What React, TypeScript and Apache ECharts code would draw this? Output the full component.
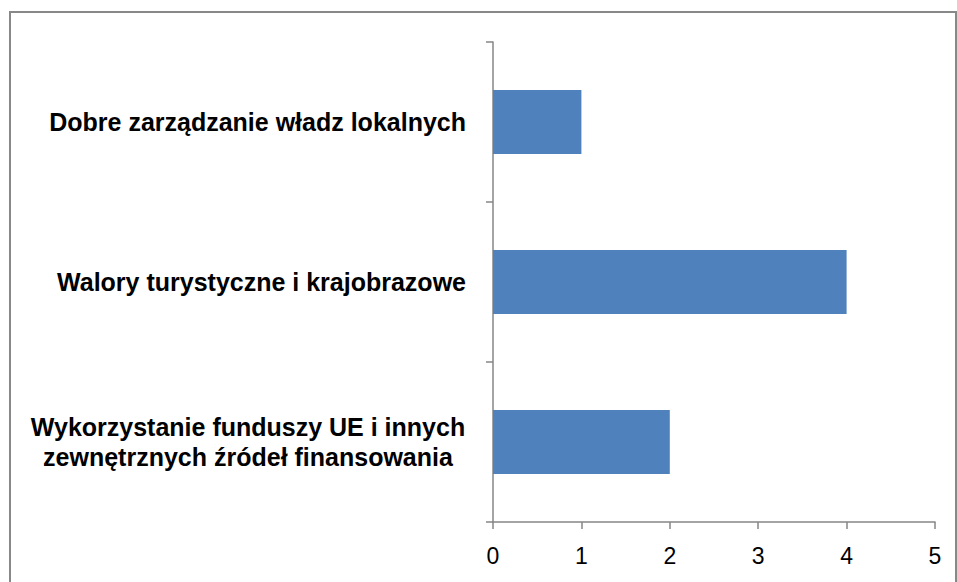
import React, { useEffect, useRef } from "react";
import * as echarts from "echarts";

const categories: string[] = [
  "Wykorzystanie funduszy UE i innych\nzewnętrznych źródeł finansowania",
  "Walory turystyczne i krajobrazowe",
  "Dobre zarządzanie władz lokalnych",
];
const values: number[] = [2, 4, 1];
const xTicks: number[] = [0, 1, 2, 3, 4, 5];

export default function App() {
  const ref = useRef<HTMLDivElement>(null);
  useEffect(() => {
    if (!ref.current) return;
    const chart = echarts.init(ref.current, undefined, { renderer: "svg" });
    const axisColor = "#868686";
    const font = "Liberation Sans, Arial, sans-serif";
    chart.setOption({
      animation: false,
      backgroundColor: "#ffffff",
      graphic: [
        {
          type: "rect",
          shape: { x: 10, y: 12, width: 946, height: 580 },
          style: { fill: "none", stroke: "#888888", lineWidth: 2 },
          silent: true,
        },
      ],
      grid: { left: 493, right: 22, top: 42, bottom: 60, containLabel: false },
      xAxis: {
        type: "value",
        min: xTicks[0],
        max: xTicks[xTicks.length - 1],
        interval: 1,
        axisLine: { show: true, lineStyle: { color: axisColor, width: 1.5 } },
        axisTick: { show: true, length: 7, lineStyle: { color: axisColor, width: 1.5 } },
        splitLine: { show: false },
        axisLabel: {
          color: "#000000",
          fontSize: 23,
          fontFamily: font,
          margin: 22,
        },
      },
      yAxis: {
        type: "category",
        data: categories,
        axisLine: { show: true, onZero: false, lineStyle: { color: axisColor, width: 1.5 } },
        axisTick: { show: true, length: 7, lineStyle: { color: axisColor, width: 1.5 } },
        axisLabel: {
          color: "#000000",
          fontSize: 25,
          fontWeight: "bold",
          fontFamily: font,
          margin: 27,
          lineHeight: 30,
          formatter: (v: string) => {
            if (v.indexOf("\n") >= 0) {
              return v
                .split("\n")
                .map((l) => "{c|" + l + "}")
                .join("\n");
            }
            return v;
          },
          rich: {
            c: {
              width: 436,
              align: "center",
              fontSize: 25,
              fontWeight: "bold",
              fontFamily: font,
              lineHeight: 30,
              color: "#000000",
            },
          },
        },
      },
      series: [
        {
          type: "bar",
          data: values,
          barWidth: "40%",
          itemStyle: { color: "#4F81BD" },
        },
      ],
    });
    return () => chart.dispose();
  }, []);
  return (
    <div
      ref={ref}
      style={{ position: "fixed", left: 0, top: 0, width: 957, height: 582 }}
    />
  );
}
